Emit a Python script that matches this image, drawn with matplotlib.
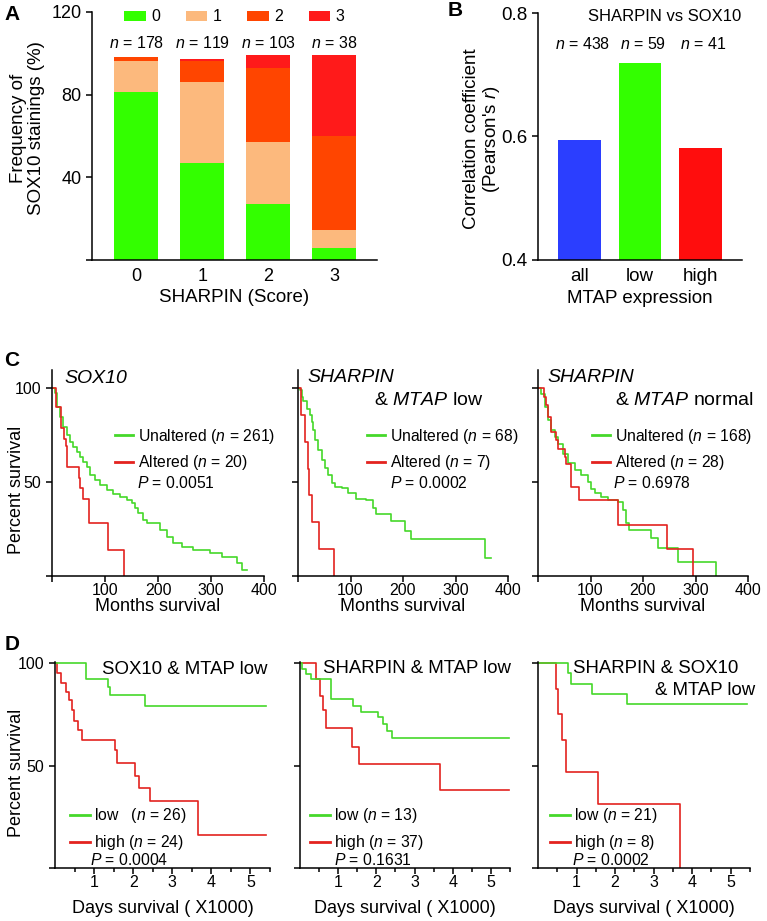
import matplotlib
matplotlib.use('Agg')
import matplotlib.pyplot as plt
from matplotlib.lines import Line2D

plt.rcParams['font.family'] = ['Liberation Sans', 'DejaVu Sans']
plt.rcParams['mathtext.fontset'] = 'custom'
plt.rcParams['mathtext.it'] = 'Liberation Sans:italic'
plt.rcParams['mathtext.rm'] = 'Liberation Sans'
plt.rcParams['axes.linewidth'] = 1.1

# ---- panel A: SOX10 staining frequency by SHARPIN score
sharpin_scores = ['0', '1', '2', '3']
sox10_levels = ['0', '1', '2', '3']
sox10_0 = [81.2, 46.8, 27.1, 5.7]
sox10_1 = [14.9, 39.4, 29.9, 9.0]
sox10_2 = [2.1, 9.9, 36.0, 45.4]
sox10_3 = [0.0, 1.1, 6.2, 39.1]
n_a = [178, 119, 103, 38]
colors_a = ['#33ff00', '#fcb97d', '#ff4500', '#ff1a1a']

# ---- panel B: Pearson r, SHARPIN vs SOX10
mtap_groups = ['all', 'low', 'high']
pearson_r = [0.594, 0.719, 0.581]
n_b = [438, 59, 41]
colors_b = ['#2b3eff', '#33ff00', '#ff0d0d']

# ---- panel C: TCGA survival (months)
c1_unalt_t = [0, 5.7, 8.8, 15.1, 21.4, 27.7, 34, 40.3, 46.5, 52.8, 59.1, 65.4, 71.7, 81.1, 90.6,
              103, 115.7, 128.3, 140.9, 150.3, 156.6, 162.9, 172.3, 178.6, 203.8, 216.4, 229,
              244.7, 266.7, 298.1, 320.1, 348.4, 357.9, 367.3]
c1_unalt_s = [100, 97.2, 90, 84.8, 79.4, 75, 71.5, 68.8, 66, 63.5, 60.8, 57.8, 53.7, 51, 48.4,
              45.7, 43.6, 42.2, 40.4, 38.7, 36, 33.3, 29.8, 28, 24.5, 21, 17.4, 15.6, 13.8, 12,
              10.3, 6.7, 3.2, 3.2]
c1_alt_t = [0, 7.5, 17, 22.6, 25.8, 29, 50, 53, 59, 70, 106, 136]
c1_alt_s = [100, 90, 79, 73, 69, 58, 52, 47, 41, 28, 14, 0]

c2_unalt_t = [0, 4, 7, 10, 16.5, 23, 26, 29, 32, 38.6, 45, 51, 57.6, 64, 70, 83, 96, 111, 130,
              142, 149, 177, 204, 216, 356, 368]
c2_unalt_s = [100, 99, 95.4, 93, 89, 85.6, 82, 77.7, 72.3, 67, 61.7, 57.3, 53.7, 49.3, 47.5,
              46.6, 44, 41, 40.4, 36, 33, 29, 24, 19.5, 9.8, 9.8]
c2_alt_t = [0, 5.7, 13.3, 18.4, 21.5, 26, 40, 69]
c2_alt_s = [100, 85.7, 71.4, 57.1, 42.9, 28.6, 14.3, 0]

c3_unalt_t = [0, 6, 12.7, 19, 25, 31.6, 38, 47.5, 57, 70, 82, 95, 101, 108, 120, 133, 152, 161,
              168, 174, 215, 228, 266, 339]
c3_unalt_s = [100, 97, 90, 83, 77.5, 74, 70.4, 65, 60, 56.3, 53.6, 50, 46.5, 43.9, 42, 40.4,
              39.5, 35, 28, 24.4, 20, 14.7, 7.6, 0]
c3_alt_t = [0, 11, 16, 19, 25, 35, 38, 50.6, 54, 63, 79, 152, 246, 296]
c3_alt_s = [100, 95.2, 91, 84.6, 76.6, 72.2, 67.8, 63.4, 59.8, 47.4, 40.7, 27, 14.3, 0]

# ---- panel D: survival (days x1000)
d1_low_t = [0, 0.8, 1.36, 1.4, 2.31, 5.4]
d1_low_s = [100, 92.3, 88.5, 84.6, 79, 79]
d1_high_t = [0, 0.04, 0.15, 0.28, 0.36, 0.43, 0.49, 0.6, 0.69, 1.53, 1.58, 2.04, 2.16, 2.42, 3.65, 5.4]
d1_high_s = [100, 95, 90.5, 86, 82, 77, 72, 67.5, 62.6, 57.8, 51.3, 44.8, 39.2, 32.7, 16.3, 16.3]

d2_low_t = [0, 0.04, 0.15, 0.3, 0.81, 1.39, 1.59, 2.03, 2.18, 2.29, 2.42, 5.47]
d2_low_s = [100, 97, 94.6, 92.5, 82.5, 79.2, 76, 73.5, 70.3, 67, 63.5, 63.5]
d2_high_t = [0, 0.43, 0.52, 0.61, 0.69, 1.37, 1.55, 3.66, 5.47]
d2_high_s = [100, 92.2, 84, 77, 68.3, 59.3, 50.8, 38.3, 38.3]

d3_low_t = [0, 0.79, 0.85, 1.39, 2.3, 5.41]
d3_low_s = [100, 95.2, 90, 85, 80, 80]
d3_high_t = [0, 0.46, 0.53, 0.63, 0.72, 1.55, 3.68]
d3_high_s = [100, 87.5, 75, 62.5, 46.9, 31.2, 0]

GREEN = '#45d82a'
RED = '#e3231f'

W, H = 767, 921
fig = plt.figure(figsize=(W / 100, H / 100), dpi=100)


def px_axes(x0, x1, y_top, y_bot):
    return fig.add_axes([x0 / W, 1 - y_bot / H, (x1 - x0) / W, (y_bot - y_top) / H])


def clean(ax, fs):
    ax.spines['top'].set_visible(False)
    ax.spines['right'].set_visible(False)
    ax.tick_params(direction='out', length=4, width=1.1, labelsize=fs)


# ================= A
axA = px_axes(92, 377, 12, 260)
x = range(len(sharpin_scores))
bottom = [0, 0, 0, 0]
for vals, col, lab in zip([sox10_0, sox10_1, sox10_2, sox10_3], colors_a, sox10_levels):
    axA.bar(x, vals, width=0.67, bottom=bottom, color=col, label=lab)
    bottom = [b + v for b, v in zip(bottom, vals)]
for i, n in enumerate(n_a):
    axA.text(i, 105, r'$n$ = %d' % n, ha='center', va='center', fontsize=11.5)
axA.set_xlim(-0.67, 3.65)
axA.set_ylim(0, 120)
axA.set_yticks([0, 40, 80, 120])
axA.set_yticklabels(['', '40', '80', '120'])
axA.set_xticks(list(x))
axA.set_xticklabels(sharpin_scores)
clean(axA, 13)
axA.tick_params(axis='x', length=0, pad=6)
axA.legend(loc='center', bbox_to_anchor=(0.5, 0.98), ncol=4, frameon=False, fontsize=11.5,
           handlelength=1.35, handleheight=0.6, handletextpad=0.35, columnspacing=1.6,
           borderaxespad=0, borderpad=0)
axA.set_xlabel('SHARPIN (Score)', fontsize=13.5)
axA.xaxis.set_label_coords(0.5, -0.118)
axA.set_ylabel('Frequency of\nSOX10 stainings (%)', fontsize=13.5, linespacing=1.1)
axA.yaxis.set_label_coords(-0.165, 0.53)

# ================= B
axB = px_axes(538, 742, 13, 260)
xb = range(len(mtap_groups))
axB.bar(xb, pearson_r, width=0.71, color=colors_b)
axB.set_xlim(-0.69, 2.69)
axB.set_ylim(0.4, 0.8)
axB.set_yticks([0.4, 0.6, 0.8])
axB.set_yticklabels(['0.4', '0.6', '0.8'])
axB.set_xticks(list(xb))
axB.set_xticklabels(mtap_groups)
clean(axB, 13.5)
axB.tick_params(axis='x', length=0, pad=6)
for i, n in enumerate(n_b):
    axB.text(i + 0.05, 0.749, r'$n$ = %d' % n, ha='center', va='center', fontsize=11.5)
axB.text(0.62, 0.985, 'SHARPIN vs SOX10', transform=axB.transAxes, ha='center', va='center',
         fontsize=12)
axB.set_xlabel('MTAP expression', fontsize=13.5)
axB.xaxis.set_label_coords(0.5, -0.122)
axB.set_ylabel("Correlation coefficient\n(Pearson's $r$)", fontsize=13.5, linespacing=1.1)
axB.yaxis.set_label_coords(-0.176, 0.49)


# ================= C
def km_months(x0, x1, unalt_t, unalt_s, alt_t, alt_s, n_unalt, n_alt, pval, leg_x, p_x, first):
    ax = px_axes(x0, x1, 370, 576)
    ax.step(unalt_t, unalt_s, where='post', color=GREEN, lw=1.2)
    ax.step(alt_t, alt_s, where='post', color=RED, lw=1.2)
    ax.set_xlim(0, 400)
    ax.set_ylim(0, 109.6)
    ax.set_xticks([0, 100, 200, 300, 400])
    ax.set_xticklabels(['', '100', '200', '300', '400'])
    ax.set_yticks([0, 50, 100])
    clean(ax, 11.5)
    ax.tick_params(axis='x', pad=1)
    if first:
        ax.set_yticklabels(['', '50', '100'])
        ax.set_ylabel('Percent survival', fontsize=13)
        ax.yaxis.set_label_coords(-0.127, 0.42)
    else:
        ax.set_yticklabels([])
    ax.set_xlabel('Months survival', fontsize=13)
    ax.xaxis.set_label_coords(0.5, -0.105)
    h1 = Line2D([], [], color=GREEN, lw=2)
    h2 = Line2D([], [], color=RED, lw=2)
    ax.legend([h1, h2], ['Unaltered ($n$ = %d)' % n_unalt, 'Altered ($n$ = %d)' % n_alt],
              loc='upper left', bbox_to_anchor=(leg_x, 0.725), frameon=False, fontsize=11.3,
              handlelength=1.15, handletextpad=0.3, labelspacing=0.5, borderpad=0,
              borderaxespad=0)
    ax.text(p_x, 0.451, '$P$ = %s' % pval, transform=ax.transAxes, fontsize=11.3,
            ha='left', va='center')
    return ax


axC1 = km_months(52, 264, c1_unalt_t, c1_unalt_s, c1_alt_t, c1_alt_s, 261, 20, '0.0051',
                 0.297, 0.401, True)
axC1.text(0.061, 0.961, 'SOX10', transform=axC1.transAxes, fontsize=14, style='italic',
          ha='left', va='center')
axC2 = km_months(298, 508, c2_unalt_t, c2_unalt_s, c2_alt_t, c2_alt_s, 68, 7, '0.0002',
                 0.329, 0.438, False)
axC2.text(0.043, 0.966, 'SHARPIN', transform=axC2.transAxes, fontsize=14, style='italic',
          ha='left', va='center')
axC2.text(0.362, 0.854, '& $MTAP$ low', transform=axC2.transAxes, fontsize=14,
          ha='left', va='center')
axC3 = km_months(538, 748, c3_unalt_t, c3_unalt_s, c3_alt_t, c3_alt_s, 168, 28, '0.6978',
                 0.257, 0.357, False)
axC3.text(0.043, 0.966, 'SHARPIN', transform=axC3.transAxes, fontsize=14, style='italic',
          ha='left', va='center')
axC3.text(0.367, 0.854, '& $MTAP$ normal', transform=axC3.transAxes, fontsize=14,
          ha='left', va='center')


# ================= D
def km_days(x0, x1, low_t, low_s, high_t, high_s, low_lab, high_lab, pval, leg_x, p_x, first):
    ax = px_axes(x0, x1, 662, 868)
    ax.step(high_t, high_s, where='post', color=RED, lw=1.2)
    ax.step(low_t, low_s, where='post', color=GREEN, lw=1.2)
    ax.set_xlim(0, 5.5)
    ax.set_ylim(0, 100.6)
    ax.set_xticks([1, 2, 3, 4, 5])
    ax.set_xticks([0.5, 1.5, 2.5, 3.5, 4.5, 5.5], minor=True)
    ax.set_yticks([0, 50, 100])
    clean(ax, 11.5)
    ax.tick_params(which='minor', direction='out', length=3, width=1.1)
    ax.tick_params(axis='x', pad=1)
    if first:
        ax.set_yticklabels(['', '50', '100'])
        ax.set_ylabel('Percent survival', fontsize=13)
        ax.yaxis.set_label_coords(-0.14, 0.46)
    else:
        ax.set_yticklabels([])
    ax.set_xlabel('Days survival ( X1000)', fontsize=13)
    ax.xaxis.set_label_coords(0.5, -0.155)
    h1 = Line2D([], [], color=GREEN, lw=2)
    h2 = Line2D([], [], color=RED, lw=2)
    ax.legend([h1, h2], [low_lab, high_lab], loc='upper left', bbox_to_anchor=(leg_x, 0.30),
              frameon=False, fontsize=11.3, handlelength=1.25, handletextpad=0.3,
              labelspacing=0.5, borderpad=0, borderaxespad=0)
    ax.text(p_x, 0.04, '$P$ = %s' % pval, transform=ax.transAxes, fontsize=11.3,
            ha='left', va='center')
    return ax


axD1 = km_days(55, 270, d1_low_t, d1_low_s, d1_high_t, d1_high_s,
               'low   ($n$ = 26)', 'high ($n$ = 24)', '0.0004', 0.07, 0.163, True)
axD1.text(0.219, 0.966, 'SOX10 & MTAP low', transform=axD1.transAxes, fontsize=13.4,
          ha='left', va='center')
axD2 = km_days(300, 510, d2_low_t, d2_low_s, d2_high_t, d2_high_s,
               'low ($n$ = 13)', 'high ($n$ = 37)', '0.1631', 0.048, 0.162, False)
axD2.text(0.11, 0.97, 'SHARPIN & MTAP low', transform=axD2.transAxes, fontsize=13.4,
          ha='left', va='center')
axD3 = km_days(538, 750, d3_low_t, d3_low_s, d3_high_t, d3_high_s,
               'low ($n$ = 21)', 'high ($n$ = 8)', '0.0002', 0.057, 0.16, False)
axD3.text(0.165, 0.97, 'SHARPIN & SOX10', transform=axD3.transAxes, fontsize=13.4,
          ha='left', va='center')
axD3.text(1.024, 0.864, '& MTAP low', transform=axD3.transAxes, fontsize=13.4,
          ha='right', va='center')

# panel letters
for lab, px, py in [('A', 12, 15), ('B', 455, 11), ('C', 12, 360), ('D', 12, 645)]:
    fig.text(px / W, 1 - py / H, lab, fontsize=15, fontweight='bold', ha='center', va='center')

fig.savefig('out.png', dpi=100)
